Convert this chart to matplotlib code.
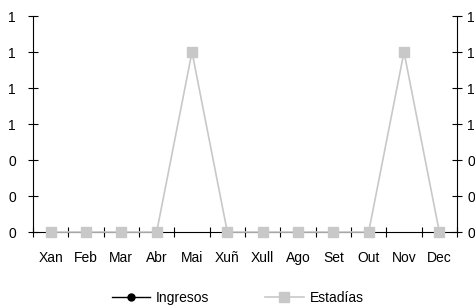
import matplotlib.pyplot as plt
from matplotlib.ticker import FormatStrFormatter

plt.rcParams['font.family'] = ['Liberation Sans', 'DejaVu Sans']
plt.rcParams['font.size'] = 10

meses = ['Xan', 'Feb', 'Mar', 'Abr', 'Mai', 'Xuñ', 'Xull', 'Ago', 'Set', 'Out', 'Nov', 'Dec']
# Ingresos has no visible points in the chart
ingresos = [None] * 12
estadias = [0, 0, 0, 0, 1, 0, 0, 0, 0, 0, 1, 0]
yticks = [0, 0.2, 0.4, 0.6, 0.8, 1.0, 1.2]

fig = plt.figure(figsize=(4.75, 3.05), dpi=100)
ax = fig.add_axes([33 / 475, 1 - 232 / 305, 424 / 475, 216 / 305])
x = list(range(len(meses)))

ing = [float('nan') if v is None else v for v in ingresos]
ax.plot(x, ing, color='black', marker='o', markersize=5, lw=1, label='Ingresos', zorder=2)
ax.plot(x, estadias, color='#c8c8c8', marker='s', markersize=6.5, lw=1.2, label='Estadías', zorder=3,
        clip_on=False)

ax.set_xlim(-0.5, 11.5)
ax.set_ylim(0, 1.2)
ax.set_yticks(yticks)
ax.yaxis.set_major_formatter(FormatStrFormatter('%.0f'))

ax.set_xticks([i + 0.5 for i in range(-1, 12)])
ax.set_xticklabels([])
ax.set_xticks(x, minor=True)
ax.set_xticklabels(meses, minor=True)
ax.tick_params(axis='x', which='major', direction='inout', length=6.5, width=0.8)
ax.tick_params(axis='x', which='minor', length=0, pad=14)
ax.tick_params(axis='y', direction='inout', length=6.5, width=0.8, pad=9)

for s in ['top', 'right']:
    ax.spines[s].set_visible(False)
for s in ['left', 'bottom']:
    ax.spines[s].set_linewidth(0.8)

ax2 = ax.twinx()
ax2.set_ylim(0, 1.2)
ax2.set_yticks(yticks)
ax2.yaxis.set_major_formatter(FormatStrFormatter('%.0f'))
ax2.tick_params(axis='y', direction='inout', length=6.5, width=0.8, pad=4)
for s in ['top', 'left', 'bottom']:
    ax2.spines[s].set_visible(False)
ax2.spines['right'].set_linewidth(0.8)

fig.legend(*ax.get_legend_handles_labels(), loc='center', bbox_to_anchor=(0.5, 1 - 298 / 305),
           ncol=2, frameon=False, handlelength=2.8, handletextpad=0.4, columnspacing=4.0,
           borderaxespad=0, borderpad=0)

fig.savefig('out.png', dpi=100)
